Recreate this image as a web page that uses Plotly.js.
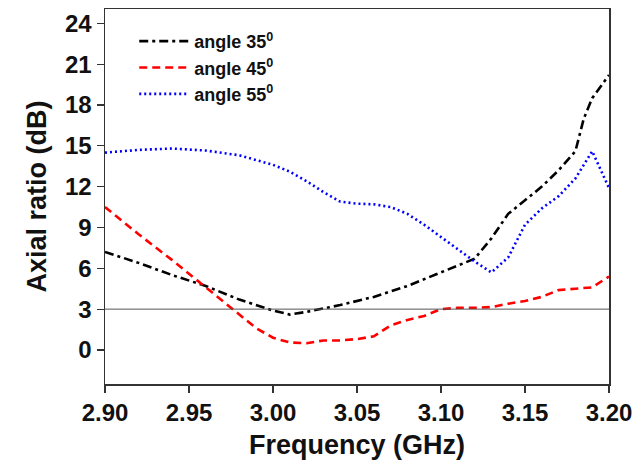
<!DOCTYPE html>
<html>
<head>
<meta charset="utf-8">
<script src="https://cdn.plot.ly/plotly-3.0.1.min.js"></script>
<style>html,body{margin:0;padding:0;background:#fff;}#chart{width:638px;height:468px;}</style>
</head>
<body>
<div id="chart"></div>
<script>
const freq35 = [2.90,2.92,2.94,2.96,2.98,3.00,3.01,3.02,3.04,3.06,3.08,3.10,3.12,3.13,3.14,3.15,3.16,3.17,3.18,3.185,3.19,3.20];
const ar35   = [7.2,6.4,5.5,4.7,3.7,2.9,2.6,2.8,3.3,3.9,4.7,5.7,6.7,8.2,10.0,11.0,12.0,13.2,14.6,17.0,18.5,20.2];

const freq45 = [2.90,2.92,2.94,2.96,2.98,2.99,3.00,3.01,3.02,3.03,3.04,3.05,3.06,3.07,3.08,3.09,3.10,3.11,3.12,3.13,3.14,3.15,3.16,3.17,3.18,3.19,3.20];
const ar45   = [10.5,8.5,6.6,4.6,2.6,1.6,0.9,0.55,0.5,0.7,0.7,0.8,1.0,1.8,2.2,2.5,3.0,3.1,3.1,3.15,3.4,3.6,3.9,4.4,4.5,4.6,5.4];

const freq55 = [2.90,2.92,2.94,2.96,2.98,3.00,3.01,3.02,3.03,3.04,3.05,3.06,3.07,3.08,3.09,3.10,3.11,3.12,3.13,3.14,3.15,3.16,3.17,3.18,3.19,3.20];
const ar55   = [14.5,14.7,14.8,14.65,14.3,13.6,13.1,12.4,11.6,10.9,10.75,10.7,10.5,10.0,9.2,8.3,7.4,6.5,5.7,6.8,9.2,10.4,11.3,12.6,14.6,11.9];

const names = ['angle 35<sup>0</sup>', 'angle 45<sup>0</sup>', 'angle 55<sup>0</sup>'];
const xTicks = [2.90,2.95,3.00,3.05,3.10,3.15,3.20];
const xTickText = ['2.90','2.95','3.00','3.05','3.10','3.15','3.20'];
const yTicks = [0,3,6,9,12,15,18,21,24];
const refLevel = 3;

const traces = [
  {x: freq35, y: ar35, name: names[0], mode: 'lines', line: {color: '#000000', width: 2.6, dash: '9px,4px,3px,4px'}},
  {x: freq45, y: ar45, name: names[1], mode: 'lines', line: {color: '#ff0000', width: 2.6, dash: '8px,5px'}},
  {x: freq55, y: ar55, name: names[2], mode: 'lines', line: {color: '#0000ff', width: 2.6, dash: '2px,3px'}}
];

const layout = {
  width: 638, height: 468,
  margin: {l: 105, r: 29, t: 9, b: 84},
  paper_bgcolor: '#ffffff', plot_bgcolor: '#ffffff',
  font: {family: 'Liberation Sans, Arial, sans-serif', color: '#000'},
  showlegend: true,
  legend: {x: 0.058, y: 0.963, xanchor: 'left', yanchor: 'top', bgcolor: 'rgba(0,0,0,0)',
           font: {size: 18, weight: 'bold', color: '#111'}, itemwidth: 50, tracegroupgap: 0},
  xaxis: {
    range: [2.90, 3.20], tickvals: xTicks, ticktext: xTickText,
    ticks: 'outside', ticklen: 7, tickwidth: 1.2, tickcolor: '#333',
    showline: true, linecolor: '#333', linewidth: 1.5, mirror: true,
    showgrid: false, zeroline: false,
    tickfont: {size: 24, weight: 'bold', color: '#111'},
    title: {text: 'Frequency (GHz)', font: {size: 27, weight: 'bold', color: '#111'}, standoff: 10}
  },
  yaxis: {
    range: [-2.5, 25.05], tickvals: yTicks,
    ticks: 'outside', ticklen: 7, tickwidth: 1.2, tickcolor: '#333',
    showline: true, linecolor: '#333', linewidth: 1.5, mirror: true,
    showgrid: false, zeroline: false,
    tickfont: {size: 24, weight: 'bold', color: '#111'},
    title: {text: 'Axial ratio (dB)', font: {size: 27, weight: 'bold', color: '#111'}, standoff: 10}
  },
  shapes: [{type: 'line', xref: 'paper', x0: 0, x1: 1, yref: 'y', y0: refLevel, y1: refLevel,
            line: {color: '#555', width: 1}}]
};

Plotly.newPlot('chart', traces, layout, {displayModeBar: false, staticPlot: true});
</script>
</body>
</html>
